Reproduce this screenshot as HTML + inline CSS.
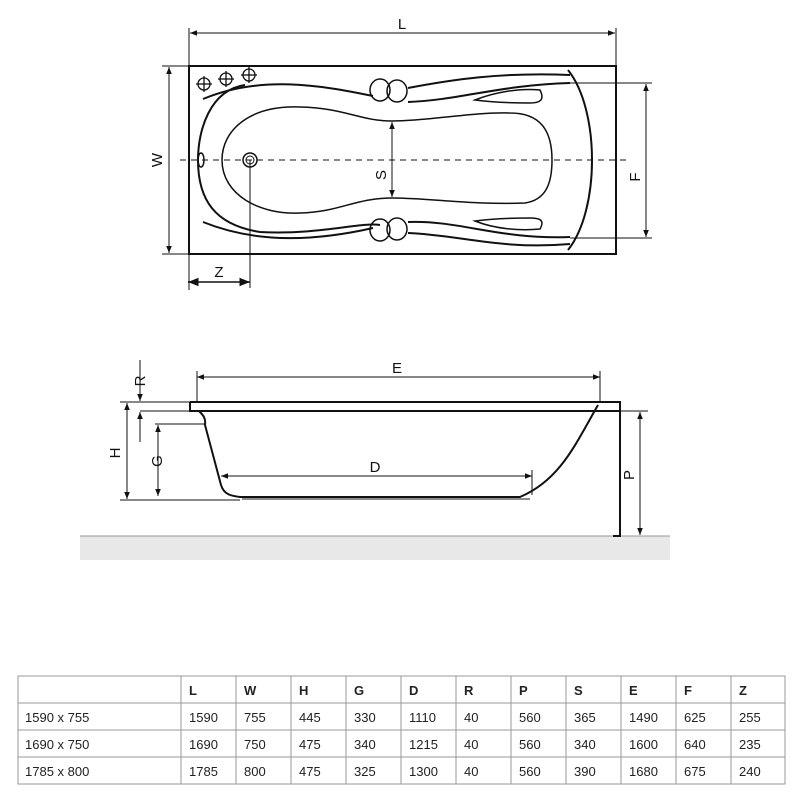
<!DOCTYPE html>
<html><head><meta charset="utf-8"><style>
body{margin:0;background:#fff;width:804px;height:802px;overflow:hidden}
svg{position:absolute;left:0;top:0}
text{font-family:"Liberation Sans",sans-serif;font-size:15px;fill:#111}
.t{font-family:"Liberation Sans",sans-serif;font-size:13px;fill:#222}
.b{font-weight:bold}
</style></head><body>
<svg width="804" height="802" viewBox="0 0 804 802">
<defs>
<marker id="a" viewBox="0 0 10 10" refX="10" refY="5" markerWidth="7" markerHeight="7" orient="auto-start-reverse"><path d="M0,1 L10,5 L0,9z" fill="#111"/></marker>
</defs>
<g stroke="#111" fill="none">
<!-- TOP VIEW -->
<rect x="189" y="66" width="427" height="188" stroke-width="2"/>
<line x1="189" y1="28" x2="189" y2="290" stroke-width="1"/>
<line x1="616" y1="28" x2="616" y2="66" stroke-width="1"/>
<line x1="190" y1="33" x2="615" y2="33" marker-start="url(#a)" marker-end="url(#a)" stroke-width="1"/>
<line x1="162" y1="66" x2="189" y2="66" stroke-width="1"/>
<line x1="162" y1="254" x2="189" y2="254" stroke-width="1"/>
<line x1="169" y1="67" x2="169" y2="253" marker-start="url(#a)" marker-end="url(#a)" stroke-width="1"/>
<line x1="180" y1="160" x2="630" y2="160" stroke-dasharray="6,5" stroke-width="1"/>
<line x1="570" y1="83" x2="652" y2="83" stroke-width="1"/>
<line x1="570" y1="238" x2="652" y2="238" stroke-width="1"/>
<line x1="646" y1="84" x2="646" y2="237" marker-start="url(#a)" marker-end="url(#a)" stroke-width="1"/>
<line x1="392" y1="122" x2="392" y2="197" marker-start="url(#a)" marker-end="url(#a)" stroke-width="1"/>
<line x1="250" y1="160" x2="250" y2="288" stroke-width="1"/>
<line x1="188" y1="282" x2="250" y2="282" marker-start="url(#a)" marker-end="url(#a)" stroke-width="1.5"/>
<!-- inner basin -->
<path d="M300,107 C250,105 222,130 222,160 C222,195 260,215 300,213 C340,212 355,198 392,198 C430,198 470,205 525,203 C545,200 552,185 552,160 C552,130 540,113 510,113 C470,112 430,121 392,121 C360,121 345,108 300,107Z" stroke-width="1.5"/>
<!-- outer rim curves -->
<path d="M245,85 C210,90 198,130 198,160 C198,200 215,225 260,232 C320,235 360,222 380,225" stroke-width="2"/>
<path d="M203,99 C260,75 320,85 373,96" stroke-width="2"/>
<path d="M203,222 C260,245 320,240 373,228" stroke-width="2"/>
<path d="M408,88 C450,80 500,72 570,75" stroke-width="2"/>
<path d="M408,102 C460,100 500,85 570,83" stroke-width="2"/>
<path d="M408,233 C460,235 500,250 570,244" stroke-width="2"/>
<path d="M408,222 C460,220 500,240 570,237" stroke-width="2"/>
<path d="M568,70 C600,110 600,210 568,250" stroke-width="2"/>
<path d="M475,100 C495,92 520,88 540,90 C545,100 540,103 530,103 C510,103 490,102 475,100Z" stroke-width="1.5"/>
<path d="M475,221 C495,229 520,231 540,229 C545,220 540,218 530,218 C510,218 490,219 475,221Z" stroke-width="1.5"/>
<ellipse cx="380" cy="90" rx="10" ry="11" stroke-width="1.5"/>
<ellipse cx="397" cy="91" rx="10" ry="11" stroke-width="1.5"/>
<ellipse cx="380" cy="230" rx="10" ry="11" stroke-width="1.5"/>
<ellipse cx="397" cy="229" rx="10" ry="11" stroke-width="1.5"/>
<ellipse cx="201" cy="160" rx="3" ry="7" stroke-width="1.5"/>
<circle cx="250" cy="160" r="7" stroke-width="1.5"/><circle cx="250" cy="160" r="4" stroke-width="1"/>
<g stroke-width="1.3">
<circle cx="204" cy="84" r="6"/><line x1="196" y1="84" x2="212" y2="84"/><line x1="204" y1="76" x2="204" y2="92"/>
<circle cx="226" cy="79" r="6"/><line x1="218" y1="79" x2="234" y2="79"/><line x1="226" y1="71" x2="226" y2="87"/>
<circle cx="249" cy="75" r="6"/><line x1="241" y1="75" x2="257" y2="75"/><line x1="249" y1="67" x2="249" y2="83"/>
</g>
<!-- SIDE VIEW -->
<rect x="80" y="536" width="590" height="24" fill="#e8e8e8" stroke="none"/>
<line x1="80" y1="536" x2="670" y2="536" stroke="#999" stroke-width="1"/>
<path d="M190,402 L620,402 L620,536 L613,536" stroke-width="2"/>
<path d="M190,402 L190,411 L620,411" stroke-width="2"/>
<path d="M199,411 C203,415 206,418 205,425 L221,485 C224,495 232,496 240,497 L520,497 C560,480 575,445 598,405" stroke-width="2"/>
<line x1="242" y1="499" x2="530" y2="499" stroke="#666" stroke-width="1.5"/>
<line x1="197" y1="377" x2="600" y2="377" marker-start="url(#a)" marker-end="url(#a)" stroke-width="1"/>
<line x1="197" y1="371" x2="197" y2="402" stroke-width="1"/>
<line x1="600" y1="371" x2="600" y2="402" stroke-width="1"/>
<line x1="221" y1="476" x2="532" y2="476" marker-start="url(#a)" marker-end="url(#a)" stroke-width="1"/>
<line x1="532" y1="470" x2="532" y2="495" stroke-width="1"/>
<line x1="120" y1="402" x2="190" y2="402" stroke-width="1"/>
<line x1="120" y1="500" x2="240" y2="500" stroke-width="1"/>
<line x1="127" y1="403" x2="127" y2="499" marker-start="url(#a)" marker-end="url(#a)" stroke-width="1"/>
<line x1="155" y1="424" x2="205" y2="424" stroke-width="1"/>
<line x1="158" y1="425" x2="158" y2="496" marker-start="url(#a)" marker-end="url(#a)" stroke-width="1"/>
<line x1="140" y1="411" x2="190" y2="411" stroke-width="1"/>
<line x1="140" y1="360" x2="140" y2="401" marker-end="url(#a)" stroke-width="1"/>
<line x1="140" y1="442" x2="140" y2="412" marker-end="url(#a)" stroke-width="1"/>
<line x1="620" y1="411" x2="648" y2="411" stroke-width="1"/>
<line x1="640" y1="412" x2="640" y2="535" marker-start="url(#a)" marker-end="url(#a)" stroke-width="1"/>
</g>
<text x="402" y="29" text-anchor="middle">L</text>
<text transform="translate(162,160) rotate(-90)" text-anchor="middle">W</text>
<text transform="translate(386,175) rotate(-90)" text-anchor="middle">S</text>
<text transform="translate(640,177) rotate(-90)" text-anchor="middle">F</text>
<text x="219" y="277" text-anchor="middle">Z</text>
<text x="397" y="373" text-anchor="middle">E</text>
<text x="375" y="472" text-anchor="middle">D</text>
<text transform="translate(145,381) rotate(-90)" text-anchor="middle">R</text>
<text transform="translate(120,453) rotate(-90)" text-anchor="middle">H</text>
<text transform="translate(162,461) rotate(-90)" text-anchor="middle">G</text>
<text transform="translate(634,475) rotate(-90)" text-anchor="middle">P</text>
<!-- TABLE -->
<g stroke="#999" stroke-width="1" fill="none">
<rect x="18" y="676" width="767" height="108"/>
<line x1="18" y1="703" x2="785" y2="703"/><line x1="18" y1="730" x2="785" y2="730"/><line x1="18" y1="757" x2="785" y2="757"/>
<line x1="181" y1="676" x2="181" y2="784"/><line x1="236" y1="676" x2="236" y2="784"/><line x1="291" y1="676" x2="291" y2="784"/>
<line x1="346" y1="676" x2="346" y2="784"/><line x1="401" y1="676" x2="401" y2="784"/><line x1="456" y1="676" x2="456" y2="784"/>
<line x1="511" y1="676" x2="511" y2="784"/><line x1="566" y1="676" x2="566" y2="784"/><line x1="621" y1="676" x2="621" y2="784"/>
<line x1="676" y1="676" x2="676" y2="784"/><line x1="731" y1="676" x2="731" y2="784"/>
</g>
<g class="t">
<text class="t b" x="189" y="695">L</text><text class="t b" x="244" y="695">W</text><text class="t b" x="299" y="695">H</text><text class="t b" x="354" y="695">G</text><text class="t b" x="409" y="695">D</text><text class="t b" x="464" y="695">R</text><text class="t b" x="519" y="695">P</text><text class="t b" x="574" y="695">S</text><text class="t b" x="629" y="695">E</text><text class="t b" x="684" y="695">F</text><text class="t b" x="739" y="695">Z</text>
<text class="t" x="25" y="722">1590 x 755</text><text class="t" x="189" y="722">1590</text><text class="t" x="244" y="722">755</text><text class="t" x="299" y="722">445</text><text class="t" x="354" y="722">330</text><text class="t" x="409" y="722">1110</text><text class="t" x="464" y="722">40</text><text class="t" x="519" y="722">560</text><text class="t" x="574" y="722">365</text><text class="t" x="629" y="722">1490</text><text class="t" x="684" y="722">625</text><text class="t" x="739" y="722">255</text>
<text class="t" x="25" y="749">1690 x 750</text><text class="t" x="189" y="749">1690</text><text class="t" x="244" y="749">750</text><text class="t" x="299" y="749">475</text><text class="t" x="354" y="749">340</text><text class="t" x="409" y="749">1215</text><text class="t" x="464" y="749">40</text><text class="t" x="519" y="749">560</text><text class="t" x="574" y="749">340</text><text class="t" x="629" y="749">1600</text><text class="t" x="684" y="749">640</text><text class="t" x="739" y="749">235</text>
<text class="t" x="25" y="776">1785 x 800</text><text class="t" x="189" y="776">1785</text><text class="t" x="244" y="776">800</text><text class="t" x="299" y="776">475</text><text class="t" x="354" y="776">325</text><text class="t" x="409" y="776">1300</text><text class="t" x="464" y="776">40</text><text class="t" x="519" y="776">560</text><text class="t" x="574" y="776">390</text><text class="t" x="629" y="776">1680</text><text class="t" x="684" y="776">675</text><text class="t" x="739" y="776">240</text>
</g>
</svg>
</body></html>
